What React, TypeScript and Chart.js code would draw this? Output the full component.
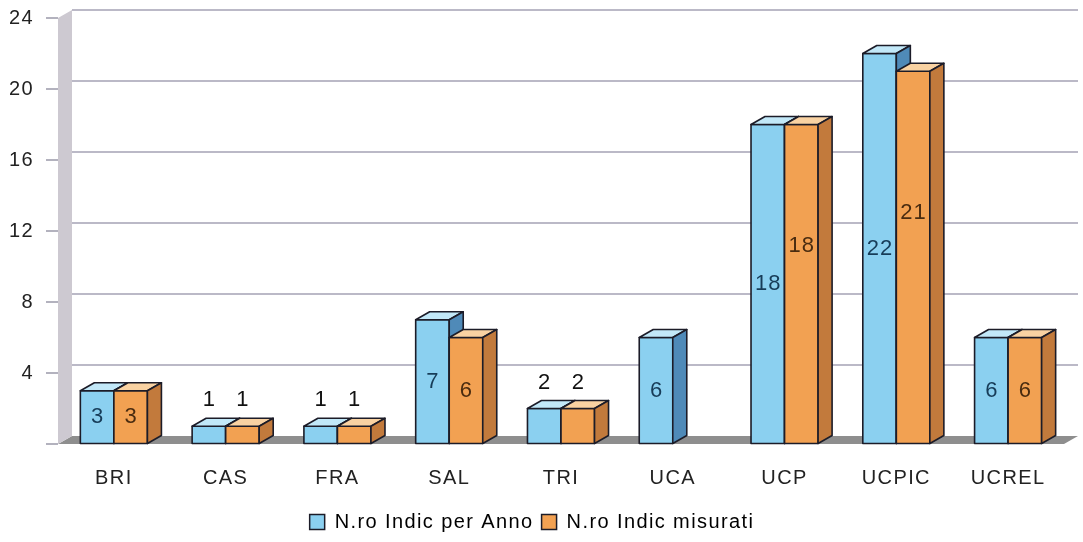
import React, { useEffect, useRef } from "react";
import { Chart, registerables } from "chart.js";

Chart.register(...registerables);

const categories = ["BRI", "CAS", "FRA", "SAL", "TRI", "UCA", "UCP", "UCPIC", "UCREL"];
const perAnno: (number | null)[] = [3, 1, 1, 7, 2, 6, 18, 22, 6];
const misurati: (number | null)[] = [3, 1, 1, 6, 2, null, 18, 21, 6];
const seriesNames = ["N.ro Indic per Anno", "N.ro Indic misurati"];
const yTicks = [0, 4, 8, 12, 16, 20, 24];

const DX = 14;
const DY = -8;
const FONT = "'Liberation Sans', Arial, sans-serif";

const palettes = [
  { front: "#8bd0f0", top: "#c2e8f8", side: "#4f8ab8", label: "#173c58" },
  { front: "#f2a152", top: "#f9d2a2", side: "#c27a3c", label: "#4a2c10" },
];
const EDGE = "#1c1c28";

const spacing = {
  id: "spacing",
  beforeUpdate(chart: any) {
    chart.ctx.letterSpacing = "1.4px";
  },
  beforeDraw(chart: any) {
    chart.ctx.letterSpacing = "1.4px";
  },
};

const threeD = {
  id: "threeD",
  beforeDatasetsDraw(chart: any) {
    const { ctx, chartArea: a, scales } = chart;
    const y = scales.y;
    ctx.save();
    // floor
    ctx.fillStyle = "#8e8e8e";
    ctx.beginPath();
    ctx.moveTo(a.left, a.bottom);
    ctx.lineTo(a.left + DX, a.bottom + DY);
    ctx.lineTo(a.right + DX, a.bottom + DY);
    ctx.lineTo(a.right, a.bottom);
    ctx.closePath();
    ctx.fill();
    // back-wall grid lines + short tick marks on the axis
    ctx.lineWidth = 1.5;
    yTicks.forEach((v) => {
      const py = y.getPixelForValue(v);
      ctx.strokeStyle = "#9a98a8";
      ctx.beginPath();
      ctx.moveTo(a.left - 12, py);
      ctx.lineTo(a.left, py);
      ctx.stroke();
      if (v === 0) return;
      ctx.strokeStyle = "#a4a2b4";
      ctx.beginPath();
      ctx.moveTo(a.left + DX, py + DY);
      ctx.lineTo(a.right + DX, py + DY);
      ctx.stroke();
    });
    // left wall
    ctx.fillStyle = "#cdc9d1";
    ctx.beginPath();
    ctx.moveTo(a.left, a.top);
    ctx.lineTo(a.left + DX, a.top + DY);
    ctx.lineTo(a.left + DX, a.bottom + DY);
    ctx.lineTo(a.left, a.bottom);
    ctx.closePath();
    ctx.fill();
    ctx.restore();
  },
  afterDatasetsDraw(chart: any) {
    const { ctx } = chart;
    const metas = [chart.getDatasetMeta(0), chart.getDatasetMeta(1)];
    ctx.save();
    ctx.lineWidth = 1.6;
    ctx.strokeStyle = EDGE;
    ctx.lineJoin = "round";
    const labels: any[] = [];
    for (let i = 0; i < categories.length; i++) {
      for (let d = 0; d < 2; d++) {
        const el: any = metas[d].data[i];
        const val = chart.data.datasets[d].data[i];
        if (!el || val === null || val === undefined) continue;
        const p = palettes[d];
        const w = el.width;
        const l = el.x - w / 2;
        const r = el.x + w / 2;
        const t = el.y;
        const b = el.base;
        ctx.fillStyle = p.front;
        ctx.beginPath();
        ctx.rect(l, t, r - l, b - t);
        ctx.fill();
        ctx.stroke();
        ctx.fillStyle = p.top;
        ctx.beginPath();
        ctx.moveTo(l, t);
        ctx.lineTo(l + DX, t + DY);
        ctx.lineTo(r + DX, t + DY);
        ctx.lineTo(r, t);
        ctx.closePath();
        ctx.fill();
        ctx.stroke();
        ctx.fillStyle = p.side;
        ctx.beginPath();
        ctx.moveTo(r, t);
        ctx.lineTo(r + DX, t + DY);
        ctx.lineTo(r + DX, b + DY);
        ctx.lineTo(r, b);
        ctx.closePath();
        ctx.fill();
        ctx.stroke();
        const h = b - t;
        if (h < 40) {
          labels.push({ x: el.x, y: t - 26, text: String(val), color: "#111111" });
        } else {
          const frac = d === 1 && h > 200 ? 0.62 : 0.5;
          labels.push({ x: el.x, y: b - h * frac, text: String(val), color: p.label });
        }
      }
    }
    ctx.letterSpacing = "1px";
    ctx.font = "22px " + FONT;
    ctx.textAlign = "center";
    ctx.textBaseline = "middle";
    labels.forEach((lb) => {
      ctx.fillStyle = lb.color;
      ctx.fillText(lb.text, lb.x + 0.5, lb.y);
    });
    ctx.restore();
  },
};

export default function App() {
  const ref = useRef<HTMLCanvasElement | null>(null);
  useEffect(() => {
    if (!ref.current) return;
    const chart = new Chart(ref.current, {
      type: "bar",
      data: {
        labels: categories,
        datasets: [
          { label: seriesNames[0], data: perAnno, backgroundColor: "rgba(0,0,0,0)", borderWidth: 0 },
          { label: seriesNames[1], data: misurati, backgroundColor: "rgba(0,0,0,0)", borderWidth: 0 },
        ],
      },
      options: {
        responsive: false,
        animation: false,
        layout: { padding: { left: 0, right: 19, top: 18, bottom: 0 } },
        datasets: {
          bar: { categoryPercentage: 0.6, barPercentage: 1.0 },
        },
        plugins: {
          tooltip: { enabled: false },
          legend: {
            position: "bottom",
            labels: {
              font: { family: FONT, size: 20 },
              color: "#222222",
              boxWidth: 15,
              boxHeight: 15,
              padding: 8,
              generateLabels: () =>
                seriesNames.map((n, i) => ({
                  text: n,
                  fillStyle: palettes[i].front,
                  strokeStyle: EDGE,
                  lineWidth: 1.5,
                  datasetIndex: i,
                  hidden: false,
                })),
            },
          },
        },
        scales: {
          x: {
            afterFit: (s: any) => {
              s.height = 60;
            },
            grid: { display: false, drawTicks: false },
            border: { display: false },
            ticks: {
              padding: 22,
              color: "#222222",
              font: { family: FONT, size: 20 },
            },
          },
          y: {
            min: 0,
            max: 24,
            afterFit: (s: any) => {
              s.width = 58;
            },
            afterBuildTicks: (s: any) => {
              s.ticks = yTicks.map((v) => ({ value: v }));
            },
            grid: {
              drawOnChartArea: false,
              drawTicks: true,
              tickLength: 24,
              tickColor: "rgba(0,0,0,0)",
            },
            border: { display: false },
            ticks: {
              padding: 0,
              color: "#222222",
              font: { family: FONT, size: 20 },
              callback: (v: any) => (v === 0 ? "" : String(v)),
            },
          },
        },
      },
      plugins: [spacing, threeD],
    });
    return () => chart.destroy();
  }, []);
  return (
    <div style={{ position: "absolute", left: 0, top: 0, width: 1083, height: 542, background: "#ffffff" }}>
      <canvas ref={ref} width={1083} height={542} />
    </div>
  );
}
